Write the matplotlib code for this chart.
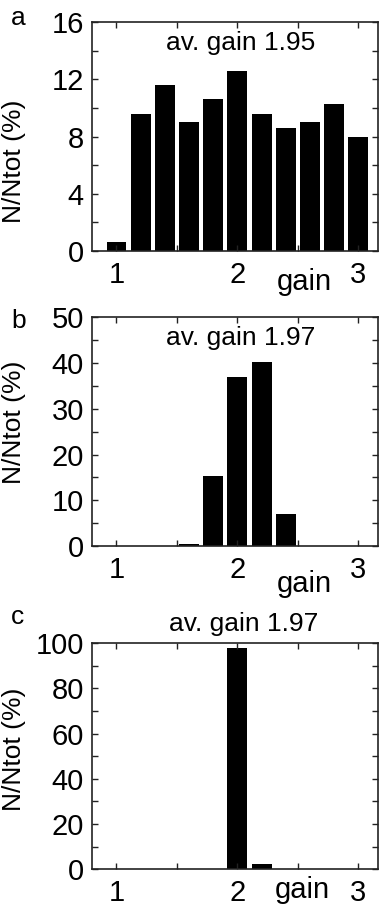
import matplotlib
matplotlib.use("Agg")
import matplotlib.pyplot as plt
from matplotlib.ticker import MultipleLocator

# bin centres of the gain histograms
gain_bins = [0.8, 1.0, 1.2, 1.4, 1.6, 1.8, 2.0, 2.2, 2.4, 2.6, 2.8, 3.0]

# N/Ntot (%) per bin
frac_a = [0.0, 0.65, 9.6, 11.6, 9.0, 10.6, 12.6, 9.6, 8.6, 9.0, 10.3, 8.0]
frac_b = [0.0, 0.0, 0.0, 0.0, 0.5, 15.4, 37.0, 40.3, 7.0, 0.0, 0.0, 0.0]
frac_c = [0.0, 0.0, 0.0, 0.0, 0.0, 0.0, 97.7, 2.2, 0.0, 0.0, 0.0, 0.0]

panel_letters = ["a", "b", "c"]
av_gain_text = ["av. gain 1.95", "av. gain 1.97", "av. gain 1.97"]
y_max = [16, 50, 100]
y_major = [4, 10, 20]
x_ticks = [1, 2, 3]

plt.rcParams["font.family"] = ["Liberation Sans", "DejaVu Sans"]

fig = plt.figure(figsize=(3.83, 9.09), dpi=100)

# axes boxes [left, bottom, width, height] in figure fraction
boxes = [
    [0.241, 0.7239, 0.747, 0.2516],
    [0.241, 0.3993, 0.747, 0.2516],
    [0.241, 0.0437, 0.747, 0.2486],
]
ylabel_y = [0.39, 0.54, 0.53]
gain_xy = [(0.74, -0.17), (0.74, -0.20), (0.733, -0.126)]

for i, frac in enumerate([frac_a, frac_b, frac_c]):
    ax = fig.add_axes(boxes[i])
    ax.bar(gain_bins, frac, width=0.165, color="black", linewidth=0)

    ax.set_xlim(0.8, 3.165)
    ax.set_ylim(0, y_max[i])
    ax.set_xticks(x_ticks)
    ax.xaxis.set_minor_locator(MultipleLocator(0.5))
    ax.yaxis.set_major_locator(MultipleLocator(y_major[i]))
    ax.yaxis.set_minor_locator(MultipleLocator(y_major[i] / 2))
    ax.tick_params(which="both", direction="in", top=True, right=True,
                   length=4, width=1, color="#222222")
    ax.tick_params(axis="x", pad=7, labelsize=21)
    ax.tick_params(axis="y", pad=6, labelsize=21)
    for sp in ax.spines.values():
        sp.set_linewidth(1.2)
        sp.set_color("#222222")

    ax.set_ylabel("N/Ntot (%)", fontsize=19)
    ax.yaxis.set_label_coords(-0.232, ylabel_y[i])

    ax.text(gain_xy[i][0], gain_xy[i][1], "gain", transform=ax.transAxes,
            ha="center", va="baseline", fontsize=21)

    if i < 2:
        ax.text(0.52, 0.91, av_gain_text[i], transform=ax.transAxes,
                ha="center", va="center", fontsize=19)
    else:
        ax.text(0.53, 1.085, av_gain_text[i], transform=ax.transAxes,
                ha="center", va="center", fontsize=19)

# panel letters
letter_pos = [(18 / 383, 1 - 18 / 909), (19 / 383, 1 - 321 / 909), (18 / 383, 1 - 617 / 909)]
for letter, (x, y) in zip(panel_letters, letter_pos):
    fig.text(x, y, letter, ha="center", va="center", fontsize=19)

fig.savefig("out.png", dpi=100)
